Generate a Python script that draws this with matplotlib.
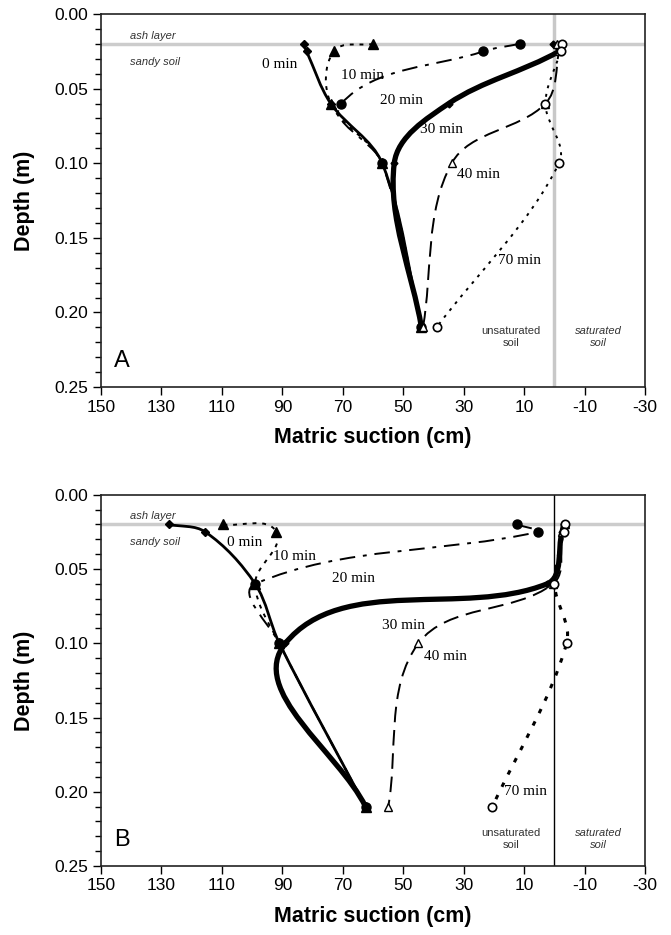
import matplotlib
matplotlib.use('Agg')
import matplotlib.pyplot as plt
import numpy as np
from matplotlib.path import Path
from matplotlib.patches import PathPatch

plt.rcParams['font.family'] = ['Liberation Sans', 'DejaVu Sans']
plt.rcParams['axes.unicode_minus'] = False

depth = [0.02, 0.025, 0.06, 0.10, 0.21]

# panel A - matric suction (cm) at each depth
a_t0 = [83, 82, 74, 57, 44]
a_t10 = [60, 73, 74, 57, 44]
a_t20 = [11.5, 23.5, 70.5, 57, 44]
a_t30 = [0.5, -1.5, 35, 53, 44]
a_t40 = [-1, -1.5, 3, 34, 43.5]
a_t70 = [-2.5, -2, 3, -1.5, 39]

# panel B
b_t0 = [127.5, 115.5, 99, 91, 62.5]
b_t10 = [109.5, 92, 99, 91, 62.5]
b_t20 = [12.5, 5.5, 99, 91, 62.5]
b_t30 = [-3, -2.5, 2.5, 89, 62.5]
b_t40 = [-3.5, -2.5, 0.5, 45, 55]
b_t70 = [-3.5, -3, 0, -4, 20.5]

a_labels = [('0 min', 91, 0.034), ('10 min', 63.5, 0.041), ('20 min', 50.5, 0.058),
            ('30 min', 37.5, 0.0775), ('40 min', 25, 0.1075), ('70 min', 11.5, 0.165)]
b_labels = [('0 min', 102.5, 0.032), ('10 min', 86, 0.0415), ('20 min', 66.5, 0.0565),
            ('30 min', 50, 0.088), ('40 min', 36, 0.109), ('70 min', 9.5, 0.2)]


def smooth(ax, xs, ys, **kw):
    # spline-like curve through the points, built in display space
    tr = ax.transData
    pts = tr.transform(np.column_stack([xs, ys]))
    n = len(pts)
    verts = [pts[0]]
    codes = [Path.MOVETO]
    tang = []
    for i in range(n):
        p0 = pts[max(i - 1, 0)]
        p2 = pts[min(i + 1, n - 1)]
        d = p2 - p0
        tang.append(d / (np.hypot(*d) + 1e-9))
    for i in range(n - 1):
        p1, p2 = pts[i], pts[i + 1]
        L = np.hypot(*(p2 - p1)) / 3.0
        verts += [p1 + tang[i] * L, p2 - tang[i + 1] * L, p2]
        codes += [Path.CURVE4] * 3
    verts = tr.inverted().transform(np.array(verts))
    ax.add_patch(PathPatch(Path(verts, codes), facecolor='none', edgecolor='k', **kw))


def panel(ax, data, labels, letter, vcolor, vlw, t70lw, soil_y):
    ax.set_xlim(150, -30)
    ax.set_ylim(0.25, 0.0)
    ax.set_xticks(np.arange(150, -31, -20))
    ax.set_yticks(np.arange(0, 0.251, 0.05))
    ax.set_yticks(np.arange(0, 0.251, 0.01), minor=True)
    ax.set_yticklabels(['%.2f' % v for v in np.arange(0, 0.251, 0.05)])
    ax.tick_params(axis='both', direction='out', labelsize=12.5, length=6, width=1, pad=3)
    ax.tick_params(axis='y', which='minor', direction='out', length=4, width=1)
    for s in ax.spines.values():
        s.set_linewidth(1.2)
        s.set_color('#222222')
    ax.axhline(0.02, color='#cccccc', lw=2.5, zorder=1)
    ax.axvline(0, color=vcolor, lw=vlw, zorder=1)

    t0, t10, t20, t30, t40, t70 = data
    smooth(ax, t10, depth, lw=1.4, linestyle=(0, (2, 3)), zorder=3)
    smooth(ax, t20, depth, lw=1.4, linestyle=(0, (8, 4, 2, 4)), zorder=3)
    smooth(ax, t40, depth, lw=1.4, linestyle=(0, (8, 4)), zorder=3)
    smooth(ax, t70, depth, lw=t70lw, linestyle=(0, (1.5, 3)), zorder=3)
    smooth(ax, t0, depth, lw=2.0, zorder=4)
    smooth(ax, t30, depth, lw=3.8, zorder=4)

    ax.plot(t0, depth, 'D', color='k', ms=4.5, ls='none', zorder=5)
    ax.plot(t30, depth, 'D', mfc='k', mec='k', ms=3.5, ls='none', zorder=5)
    ax.plot(t10, depth, '^', color='k', ms=6.5, ls='none', zorder=5)
    ax.plot(t20, depth, 'o', color='k', ms=6.5, ls='none', zorder=5)
    ax.plot(t40, depth, '^', mfc='white', mec='k', mew=1, ms=6, ls='none', zorder=6)
    ax.plot(t70, depth, 'o', mfc='white', mec='k', mew=1.2, ms=6, ls='none', zorder=6)

    for txt, x, y in labels:
        ax.text(x, y, txt, family='Liberation Serif', fontsize=11, ha='center', va='center')
    ax.text(140.5, 0.0145, 'ash layer', style='italic', fontsize=8, color='#333333', va='center')
    ax.text(140.5, 0.032, 'sandy soil', style='italic', fontsize=8, color='#333333', va='center')
    ax.text(14.5, soil_y, 'unsaturated\nsoil', fontsize=8, color='#333333',
            ha='center', va='center', linespacing=1.2)
    ax.text(-14.5, soil_y, 'saturated\nsoil', style='italic', fontsize=8, color='#333333',
            ha='center', va='center', linespacing=1.2)
    ax.text(143, 0.2325, letter, fontsize=17, ha='center', va='center')
    ax.set_xlabel('Matric suction (cm)', fontsize=15.5, fontweight='bold', labelpad=9)
    ax.set_ylabel('Depth (m)', fontsize=15.5, fontweight='bold', labelpad=14)


fig = plt.figure(figsize=(6.71, 9.35), dpi=100)
axA = fig.add_axes([0.1505, 0.586, 0.811, 0.399])
axB = fig.add_axes([0.1505, 0.0738, 0.811, 0.397])

panel(axA, [a_t0, a_t10, a_t20, a_t30, a_t40, a_t70], a_labels, 'A', '#c8c8c8', 2.5, 1.4, 0.2165)
panel(axB, [b_t0, b_t10, b_t20, b_t30, b_t40, b_t70], b_labels, 'B', 'k', 1.0, 2.2, 0.232)

fig.savefig('out.png', dpi=100)
